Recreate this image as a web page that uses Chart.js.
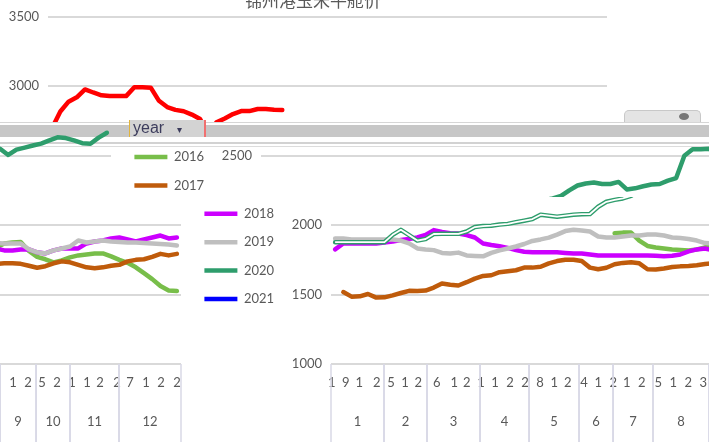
<!DOCTYPE html>
<html>
<head>
<meta charset="utf-8">
<script src="https://cdn.jsdelivr.net/npm/chart.js@4.4.1/dist/chart.umd.min.js"></script>
<style>
  body { margin: 0; background: #fff; }
  #stage { position: relative; width: 709px; height: 442px; overflow: hidden; background: #fff; }
  .panel { position: absolute; overflow: hidden; }
  .panel canvas { position: absolute; }
  .strip { position: absolute; left: 0; width: 709px; }
  #title { position: absolute; left: 245px; top: -9px; font-family: 'Noto Sans CJK SC'; font-size: 17px; line-height: 17px; color: #595959; white-space: nowrap; z-index: 6; }
  #yearBtn { position: absolute; left: 129px; top: 120px; width: 74px; height: 17px; background: #D3D3D3; border-left: 1px solid #E2B43C; border-right: 2px solid #F07070; z-index: 5; font-family: 'Liberation Sans'; font-size: 16px; line-height: 14px; color: #3C3C5C; }
  #yearBtn span { position: absolute; }
  #fieldTab { position: absolute; left: 624px; top: 110px; width: 75px; height: 11px; background: #E4E4E4; border: 1px solid #C8C8C8; border-bottom: none; border-radius: 5px 5px 0 0; z-index: 5; }
  #fieldTab i { position: absolute; left: 54px; top: 2px; width: 10px; height: 7px; border-radius: 50%; background: #777; }
</style>
</head>
<body>
<div id="stage">
  <div id="title">锦州港玉米平舱价</div>
  <div class="strip" style="top:122px;height:1px;background:#D6D6D6"></div>
  <div class="strip" style="top:125px;height:12px;background:#C7C7C7"></div>
  <div class="strip" style="top:142px;height:2px;background:#D2D2D2"></div>
  <div class="strip" style="top:146px;height:1px;background:#DCDCDC"></div>
  <div id="yearBtn"><span style="left:3px;top:1px">year</span><span style="left:47px;top:3px;font-size:10px">▾</span></div>
  <div id="fieldTab"><i></i></div>
</div>
<script>
// x runs in price-day slots (about two trading days each), 68 in the year
const months = ['1', '2', '3', '4', '5', '6', '7', '8', '9', '10', '11', '12'];
// where each month group starts and ends, in slot units
const monthEdges = [-0.5, 5.95, 11.18, 17.63, 23.59, 29.67, 33.81, 38.67, 45.49, 49.87, 54.0, 59.96, 67.5];

// day labels as Excel shows them (cut to one character) and where they sit
const dayTickText = [
  '1', '9', '1', '2',
  '5', '1', '2',
  '6', '1', '2',
  '1', '1', '2', '2',
  '8', '1', '2',
  '4', '1',
  '2', '1', '2',
  '5', '1', '2', '3',
  '1', '2',
  '5', '2',
  '1', '1', '2', '2',
  '7', '1', '2', '2'
];
const dayTickPos = [
  -0.41, 1.29, 2.94, 5.06,
  6.80, 8.50, 10.12,
  12.36, 14.50, 16.01,
  17.75, 19.45, 21.28, 23.10,
  24.93, 26.66, 28.30,
  30.28, 32.02,
  33.84, 35.47, 37.30,
  39.32, 41.14, 42.97, 44.79,
  47.07, 48.89,
  50.59, 52.42,
  54.24, 56.07, 57.65, 59.72,
  61.30, 63.25, 65.07, 67.02
];

const years = ['2016', '2017', '2018', '2019', '2020', '2021'];

const p2016 = [
  null, null, null, null, null, null, null,
  null, null, null, null, null,
  null, null, null, null, null, null,
  null, null, null, null, null, null,
  null, null, null, null, null, null,
  null, null, null, null,
  1941, 1946, 1946, 1889, 1850,
  1839, 1832, 1825, 1821, 1818, 1825, 1839,
  1868, 1875, 1879, 1814,
  1771, 1754, 1732, 1746,
  1768, 1782, 1789, 1796, 1796, 1775,
  1750, 1729, 1696, 1654, 1611, 1561, 1530, 1525
];

const p2017 = [
  null, 1518, 1485, 1487, 1504, 1478, 1480,
  1494, 1511, 1527, 1525, 1529,
  1550, 1580, 1570, 1565, 1589, 1615,
  1634, 1639, 1661, 1668, 1675, 1694,
  1694, 1700, 1725, 1741, 1751, 1751,
  1741, 1694, 1682, 1693,
  1718, 1728, 1732, 1725, 1682,
  1680, 1688, 1698, 1703, 1706, 1711, 1720,
  1725, 1725, 1721, 1707,
  1693, 1704, 1725, 1739,
  1732, 1714, 1696, 1689, 1696, 1707,
  1714, 1739, 1750, 1754, 1771, 1793, 1782, 1793
];

const p2018 = [
  1825, 1868, 1868, 1868, 1868, 1868, 1875,
  1882, 1893, 1900, 1911, 1930,
  1964, 1950, 1942, 1939, 1928, 1911,
  1868, 1857, 1848, 1836, 1820, 1808,
  1804, 1804, 1804, 1804, 1800, 1796,
  1796, 1789, 1782, 1782,
  1782, 1782, 1782, 1782, 1782,
  1779, 1775, 1779, 1789, 1811, 1825, 1832,
  1818, 1818, 1825, 1825,
  1804, 1796, 1818, 1832,
  1832, 1832, 1868, 1882, 1889, 1904,
  1911, 1897, 1882, 1897, 1911, 1925, 1904, 1911
];

const p2019 = [
  1904, 1904, 1897, 1897, 1897, 1897, 1897,
  1897, 1889, 1868, 1832, 1825,
  1820, 1800, 1796, 1802, 1782, 1778,
  1775, 1800, 1818, 1832, 1846, 1864,
  1886, 1897, 1910, 1932, 1957, 1966,
  1961, 1954, 1918, 1911,
  1911, 1918, 1925, 1925, 1932,
  1932, 1925, 1911, 1907, 1900, 1889, 1871,
  1868, 1868, 1868, 1825,
  1804, 1796, 1818, 1832,
  1846, 1889, 1875, 1882, 1889, 1882,
  1879, 1875, 1875, 1871, 1868, 1864, 1861, 1854
];

const p2020 = [
  1877, 1877, 1877, 1877, 1877, 1877, 1877,
  1930, 1966, 1928, 1889, 1900,
  1936, 1937, 1937, 1937, 1954, 1986,
  1993, 1996, 2004, 2009, 2021, 2032,
  2044, 2075, 2068, 2061, 2068, 2075,
  2079, 2080, 2132, 2168,
  2182, 2192, 2210, 2250, 2285,
  2300, 2307, 2296, 2296, 2311, 2257, 2265,
  2280, 2293, 2296, 2320,
  2339, 2500, 2546, 2546,
  2550, 2505, 2544, 2558, 2573, 2587,
  2610, 2632, 2627, 2610, 2590, 2586, 2630, 2665
];

const p2021 = [
  2700, 2818, 2889, 2920, 2977, 2955, 2935,
  2929, 2929, 2929, 2993, 2993,
  2990, 2895, 2850, 2830, 2820, 2796,
  2764, 2650, 2740, 2768, 2800, 2821,
  2821, 2836, 2836, 2830, 2829, null,
  null, null, null, null,
  null, null, null, null, null,
  null, null, null, null, null, null, null,
  null, null, null, null,
  null, null, null, null,
  null, null, null, null, null, null,
  null, null, null, null, null, null, null, null
];

const series = [p2016, p2017, p2018, p2019, p2020, p2021];
const slotIndex = p2019.map((v, i) => i);
const lineColors = ['#78BE4A', '#BF5B0B', '#CC00FF', '#BFBFBF', '#2E9D6C', '#0000FF'];

const W = 709, H = 442;
const textColor = '#595959';
const tickFont = { family: 'Lato', size: 13 };

// the legend sits right of the plot; keep the plot right edge at 605
const measure = document.createElement('canvas').getContext('2d');
measure.font = '13px Lato';
const textW = Math.max(...years.map(y => measure.measureText(y).width));
const legendW = 15.4 + 33 + 6.5 + textW + 10;
const padRight = Math.max(0, W - 605 - 8 - legendW);

/**
 * Month row under the day labels, with the group separators
 */
const monthAxis = {
  id: 'monthAxis',
  afterDraw(chart) {
    const scale = chart.scales.x;
    const ctx = chart.ctx;
    ctx.save();
    ctx.strokeStyle = '#D8D8E6';
    ctx.lineWidth = 1.5;
    ctx.fillStyle = textColor;
    ctx.font = '13px Lato';
    ctx.textAlign = 'center';
    ctx.textBaseline = 'middle';
    months.forEach((m, i) => {
      const left = scale.getPixelForValue(monthEdges[i]);
      const right = scale.getPixelForValue(monthEdges[i + 1]);
      [left, right].forEach(px => {
        ctx.beginPath();
        ctx.moveTo(px, scale.top);
        ctx.lineTo(px, chart.height);
        ctx.stroke();
      });
      ctx.fillText(m, (left + right) / 2, scale.top + 58);
    });
    ctx.restore();
  }
};

function makeConfig(variant) {
  const datasets = years.map((year, i) => ({
    label: year,
    data: series[i],
    borderColor: (variant === 'top' && year === '2021') ? '#FF0000' : lineColors[i],
    backgroundColor: lineColors[i],
    borderWidth: 4.5,
    pointRadius: 0,
    borderCapStyle: 'round',
    borderJoinStyle: 'round',
    order: years.length - i,
    yAxisID: 'y'
  }));

  // lower part of the screenshot shows the 2020 line hollow
  if (variant === 'lower') {
    datasets.push({
      label: '_2020',
      data: p2020,
      borderColor: '#FFFFFF',
      borderWidth: 1.8,
      pointRadius: 0,
      borderJoinStyle: 'round',
      order: 1.5,
      yAxisID: 'y'
    });
  }

  return {
    type: 'line',
    data: { labels: slotIndex, datasets: datasets },
    options: {
      responsive: false,
      animation: false,
      devicePixelRatio: 1,
      events: [],
      layout: { padding: { top: 14, right: padRight, bottom: 0, left: 0 } },
      scales: {
        x: {
          type: 'linear',
          min: -0.5,
          max: 67.5,
          grid: { display: false, drawTicks: false },
          border: { display: false },
          afterBuildTicks(s) { s.ticks = dayTickPos.map(v => ({ value: v })); },
          ticks: {
            autoSkip: false, maxRotation: 0, minRotation: 0, padding: 11,
            color: textColor, font: tickFont,
            callback: (value, index) => dayTickText[index]
          },
          afterFit(s) { s.height = 78; }
        },
        y: {
          type: 'linear',
          min: 1000,
          max: 3500,
          ticks: { stepSize: 500, padding: 9, color: textColor, font: tickFont, callback: v => String(v) },
          grid: { color: '#D9D9D9', lineWidth: 2, drawTicks: false },
          border: { display: false },
          afterFit(s) { s.width = 46; }
        },
        gap: {
          type: 'linear',
          position: 'right',
          grid: { display: false, drawTicks: false },
          ticks: { display: false },
          border: { display: false },
          afterFit(s) { s.width = 8; }
        }
      },
      plugins: {
        tooltip: { enabled: false },
        legend: {
          position: 'right',
          align: 'center',
          labels: {
            usePointStyle: true,
            pointStyle: 'line',
            pointStyleWidth: 33,
            padding: 15.4,
            color: textColor,
            font: tickFont,
            filter: item => !item.text.startsWith('_'),
            sort: (a, b) => a.datasetIndex - b.datasetIndex
          }
        }
      }
    },
    plugins: [monthAxis]
  };
}

/**
 * One slice of the screenshot: a clip box showing the chart at a shifted position
 */
function addPanel(clip, canvasLeft, variant, z) {
  const stage = document.getElementById('stage');
  const box = document.createElement('div');
  box.className = 'panel';
  box.style.left = clip.x + 'px';
  box.style.top = clip.y + 'px';
  box.style.width = clip.w + 'px';
  box.style.height = clip.h + 'px';
  box.style.zIndex = z;
  const canvas = document.createElement('canvas');
  canvas.width = W;
  canvas.height = H;
  canvas.style.width = W + 'px';
  canvas.style.height = H + 'px';
  canvas.style.left = (canvasLeft - clip.x) + 'px';
  canvas.style.top = (-clip.y) + 'px';
  box.appendChild(canvas);
  stage.appendChild(box);
  new Chart(canvas, makeConfig(variant));
}

addPanel({ x: 0, y: 0, w: 709, h: 122 }, 2, 'top', 1);
addPanel({ x: 0, y: 124, w: 215, h: 73 }, -494, 'band', 2);
addPanel({ x: 215, y: 140, w: 494, h: 57 }, 215, 'band', 2);
addPanel({ x: 0, y: 197, w: 285, h: 245 }, -424, 'lower', 2);
addPanel({ x: 285, y: 197, w: 424, h: 245 }, 285, 'lower', 2);
</script>
</body>
</html>
